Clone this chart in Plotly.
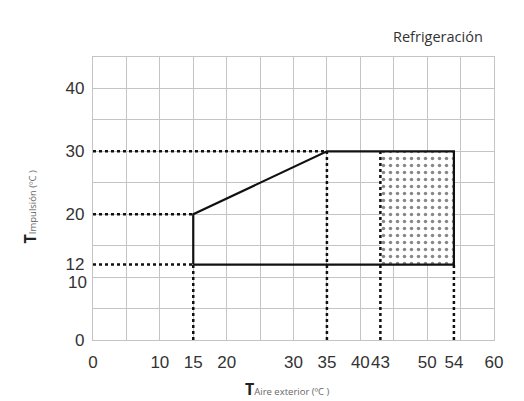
import plotly.graph_objects as go

# Operating envelope (cooling)
env_x = [15, 15, 35, 54, 54, 15]
env_y = [12, 20, 30, 30, 12, 12]

# Dotted (extended) zone
zone_x = [43, 54, 54, 43, 43]
zone_y = [12, 12, 30, 30, 12]

# Dotted reference lines: horizontal (y, x_end) and vertical (x, y_end)
h_refs_y = [30, 20, 12]
h_refs_xend = [35, 15, 15]
v_refs_x = [15, 35, 43, 54]
v_refs_yend = [12, 30, 30, 12]

x_ticks = [0, 10, 15, 20, 30, 35, 40, 43, 50, 54, 60]
y_ticks = [0, 12, 20, 30, 40]

fig = go.Figure()

# dotted fill zone
fig.add_trace(go.Scatter(
    x=zone_x, y=zone_y, mode="lines", fill="toself",
    fillcolor="rgba(0,0,0,0)",
    fillpattern=dict(shape=".", size=7, solidity=0.2, fgcolor="#111", bgcolor="white"),
    line=dict(width=0), hoverinfo="skip", showlegend=False))

# reference dotted lines
for y, xe in zip(h_refs_y, h_refs_xend):
    fig.add_trace(go.Scatter(x=[0, xe], y=[y, y], mode="lines",
                             line=dict(color="#111", width=2.5, dash="dot"),
                             showlegend=False, hoverinfo="skip"))
for x, ye in zip(v_refs_x, v_refs_yend):
    fig.add_trace(go.Scatter(x=[x, x], y=[0, ye], mode="lines",
                             line=dict(color="#111", width=2.5, dash="dot"),
                             showlegend=False, hoverinfo="skip"))

# envelope
fig.add_trace(go.Scatter(x=env_x, y=env_y, mode="lines",
                         line=dict(color="#111", width=2.2),
                         showlegend=False, hoverinfo="skip"))

# small stub below axis at 45
fig.add_trace(go.Scatter(x=[45, 45], y=[0, -1.7], mode="lines",
                         line=dict(color="#bbb", width=1.2), cliponaxis=False,
                         showlegend=False, hoverinfo="skip"))

grid = dict(tickmode="linear", dtick=5, showgrid=True, gridcolor="#c4c4c4", gridwidth=1.4)
axis_common = dict(showgrid=False, automargin=False,
                   showline=True, linecolor="#c4c4c4", linewidth=1.4, mirror=True,
                   zeroline=False, ticks="", tickangle=0, minor=grid,
                   tickfont=dict(family="Liberation Sans", size=17, color="#333"))

# page body has an 8px default margin, so the figure is 8px smaller
fig.update_layout(
    width=516, height=393,
    margin=dict(l=85, r=30, t=49, b=61),
    paper_bgcolor="white", plot_bgcolor="white",
    xaxis=dict(range=[0, 60], tickmode="array", tickvals=x_ticks,
               ticklabelstandoff=6, **axis_common),
    yaxis=dict(range=[0, 45], tickmode="array", tickvals=y_ticks,
               ticklabelstandoff=4, **axis_common),
)

annotations = [
    dict(text="10", x=0, y=10, xref="x", yref="y", xanchor="right", yanchor="middle",
         xshift=-4, yshift=-5, showarrow=False,
         font=dict(family="Liberation Sans", size=17, color="#333")),
    dict(text="Refrigeración", x=0.978, y=1.074, xref="paper", yref="paper",
         xanchor="right", yanchor="middle", showarrow=False,
         font=dict(family="Open Sans", size=14.5, color="#333")),
    dict(text="<b>T</b><span style='font-size:9.5px;color:#666'>Aire exterior (ºC )</span>",
         x=0.375, y=-0.172, xref="paper", yref="paper", xanchor="left", yanchor="middle",
         showarrow=False, font=dict(family="Open Sans", size=16, color="#222")),
    dict(text="<b>T</b><span style='font-size:9.5px;color:#666'>Impulsión (ºC )</span>",
         x=-0.156, y=0.47, xref="paper", yref="paper", xanchor="center", yanchor="middle",
         textangle=-90, showarrow=False, font=dict(family="Open Sans", size=16, color="#222")),
]
fig.update_layout(annotations=annotations)

fig.write_html("out.html")
